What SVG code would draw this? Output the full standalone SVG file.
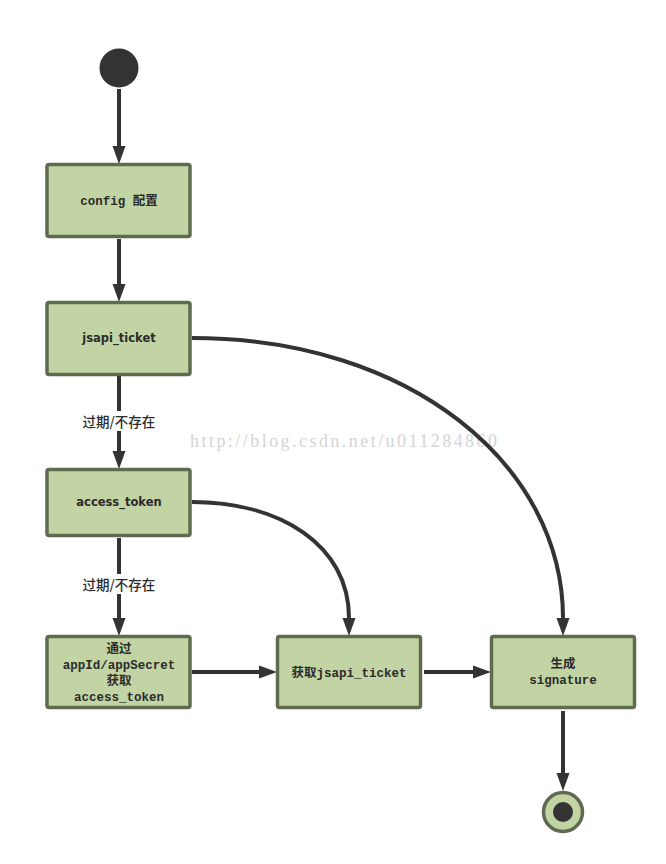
<svg xmlns="http://www.w3.org/2000/svg" width="666" height="864" viewBox="0 0 666 864">
<style>
.box{fill:#c2d4a4;stroke:#5f6b50;stroke-width:3.5}
.edge{fill:none;stroke:#333;stroke-width:4}
.mono{font-family:"Liberation Mono","Noto Sans CJK SC",monospace;font-size:12.5px;font-weight:bold;fill:#2b2b2b;text-anchor:middle}
.sans{font-family:"DejaVu Sans","Noto Sans CJK SC",sans-serif;font-size:11.5px;font-weight:bold;fill:#2b2b2b;text-anchor:middle}
.lbl{font-family:"Noto Sans CJK SC",sans-serif;font-size:13.5px;font-weight:500;fill:#2b2b2b;text-anchor:middle}
.wm{font-family:"Liberation Serif","Noto Sans CJK SC",serif;font-size:18px;fill:#d4d4d4}
</style>
<defs>
<marker id="arr" markerUnits="userSpaceOnUse" markerWidth="20" markerHeight="16" refX="0" refY="0" viewBox="0 -8 20 16" orient="auto">
<path d="M0,-6.5 L18,0 L0,6.5 z" fill="#333"/>
</marker>
</defs>
<rect width="666" height="864" fill="#fff"/>
<text class="wm" x="190" y="447" textLength="307">http://blog.csdn.net/u011284860</text>
<g id="connectors">
<path class="edge" d="M119,89 L119,146" marker-end="url(#arr)"/>
<path class="edge" d="M119,239 L119,284" marker-end="url(#arr)"/>
<path class="edge" d="M119,376 L119,451" marker-end="url(#arr)"/>
<path class="edge" d="M119,538 L119,618" marker-end="url(#arr)"/>
<path class="edge" d="M192,672 L259,672" marker-end="url(#arr)"/>
<path class="edge" d="M424,672 L473,672" marker-end="url(#arr)"/>
<path class="edge" d="M563,711 L563,773" marker-end="url(#arr)"/>
<path class="edge" d="M192,338 C410,338 563,465 563,618" marker-end="url(#arr)"/>
<path class="edge" d="M192,502 C280,502 349,545 349,618" marker-end="url(#arr)"/>
<rect x="77" y="411" width="84" height="20" fill="#fff"/>
<text class="lbl" x="119" y="426.5">过期/不存在</text>
<rect x="77" y="574" width="84" height="20" fill="#fff"/>
<text class="lbl" x="119" y="589.5">过期/不存在</text>
</g>
<g id="start">
<circle cx="119" cy="68" r="19.5" fill="#333"/>
</g>
<g id="config">
<rect class="box" x="47" y="164.5" width="143" height="72" rx="2"/>
<text class="mono" x="119" y="205">config 配置</text>
</g>
<g id="jsapi_ticket">
<rect class="box" x="47" y="302.5" width="143" height="72" rx="2"/>
<text class="sans" x="119" y="342">jsapi_ticket</text>
</g>
<g id="access_token">
<rect class="box" x="47" y="469.5" width="143" height="66" rx="2"/>
<text class="sans" x="119" y="506">access_token</text>
</g>
<g id="get_access_token">
<rect class="box" x="47" y="636.5" width="143" height="71" rx="2"/>
<text class="mono" x="119" y="652.5">通过</text>
<text class="mono" x="119" y="668.5">appId/appSecret</text>
<text class="mono" x="119" y="684.5">获取</text>
<text class="mono" x="119" y="700.5">access_token</text>
</g>
<g id="get_jsapi_ticket">
<rect class="box" x="277.5" y="636.5" width="143" height="71" rx="2"/>
<text class="mono" x="349" y="676.5">获取jsapi_ticket</text>
</g>
<g id="signature">
<rect class="box" x="491.5" y="636.5" width="143" height="71" rx="2"/>
<text class="mono" x="563" y="667.5">生成</text>
<text class="mono" x="563" y="684">signature</text>
</g>
<g id="end">
<circle cx="563" cy="812" r="19.5" fill="#c2d4a4" stroke="#5f6b50" stroke-width="3.5"/>
<circle cx="563" cy="812" r="10" fill="#333"/>
</g>
</svg>
